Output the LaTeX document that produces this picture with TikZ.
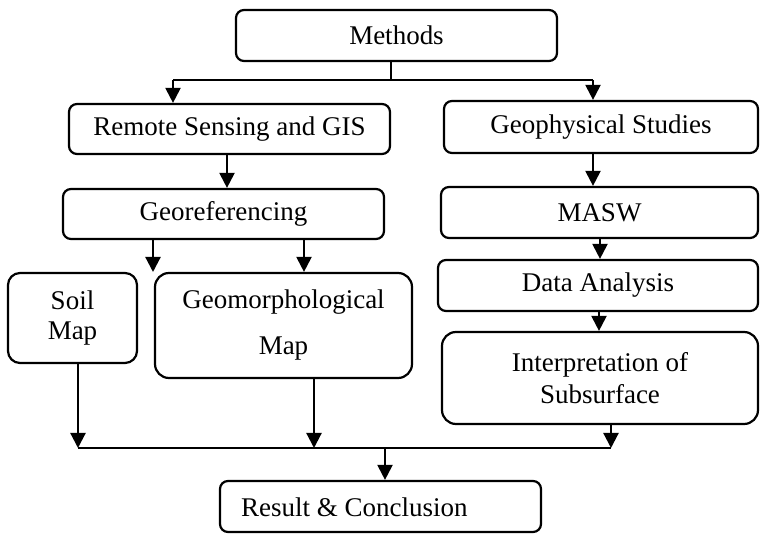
\documentclass[tikz,border=0pt]{standalone}
\usepackage{fontspec}
\setmainfont{Liberation Serif}
\usetikzlibrary{arrows.meta}
\begin{document}
\begin{tikzpicture}[x=1pt,y=-1pt,
  box/.style={draw, line width=2.2pt, rounded corners=8pt, inner sep=0pt, align=center,
    font=\fontsize{27}{30}\selectfont},
  bigbox/.style={box, rounded corners=14pt},
  arr/.style={line width=2.2pt, -{Triangle[width=15pt,length=15pt]}},
  ln/.style={line width=1.6pt}]
\useasboundingbox (0,0) rectangle (761,534);
% boxes
\node[box, minimum width=321pt, minimum height=51pt] (methods) at (396.5,35.5) {Methods};
\node[box, minimum width=321pt, minimum height=50pt] (rs) at (229.5,129) {Remote Sensing and GIS};
\node[box, minimum width=321pt, minimum height=50pt] (geo) at (223.5,214) {Georeferencing};
\node[box, minimum width=314pt, minimum height=52pt] (gp) at (601,127) {Geophysical Studies};
\node[box, minimum width=317pt, minimum height=51pt] (masw) at (599.5,212.5) {MASW};
\node[box, minimum width=320pt, minimum height=51pt] (data) at (598,285.5) {Data Analysis};
\node[bigbox, minimum width=316pt, minimum height=92pt, font=\fontsize{27}{32}\selectfont] (interp) at (600,378) {Interpretation of\\Subsurface};
\node[box, rounded corners=12pt, minimum width=129pt, minimum height=90pt] (soil) at (72.5,318) {Soil\\Map};
\node[bigbox, minimum width=257pt, minimum height=105pt, font=\fontsize{27}{46}\selectfont] (geom) at (283.5,325.5) {Geomorphological\\Map};
\node[box, minimum width=321pt, minimum height=51pt] (result) at (380.5,506.5) {};
\node[font=\fontsize{27}{30}\selectfont, anchor=west, inner sep=0pt] (resulttext) at (241,507) {Result \& Conclusion};
% junction coordinates
\coordinate (j1) at (391,80);
\coordinate (jl) at (173,80);
\coordinate (jr) at (593,80);
\coordinate (x227) at (227,0);
\coordinate (x153) at (153,272);
\coordinate (x304) at (304,0);
\coordinate (x593) at (593,0);
\coordinate (x600) at (600,0);
\coordinate (x599) at (599,0);
\coordinate (b1) at (78,448);
\coordinate (b2) at (314,448);
\coordinate (b3) at (611,448);
\coordinate (b4) at (385,448);
% connectors
\draw[ln] (methods.south -| j1) -- (j1);
\draw[ln] (jl) -- (jr);
\draw[arr] (jl) -- (jl |- rs.north);
\draw[arr] (jr) -- (jr |- gp.north);
\draw[arr] (rs.south -| x227) -- (geo.north -| x227);
\draw[arr] (geo.south -| x153) -- (x153);
\draw[arr] (geo.south -| x304) -- (geom.north -| x304);
\draw[arr] (gp.south -| x593) -- (masw.north -| x593);
\draw[arr] (masw.south -| x600) -- (data.north -| x600);
\draw[arr] (data.south -| x599) -- (interp.north -| x599);
\draw[arr] (soil.south -| b1) -- (b1);
\draw[arr] (geom.south -| b2) -- (b2);
\draw[arr] (interp.south -| b3) -- (b3);
\draw[ln] (b1) -- (b3);
\draw[arr] (b4) -- (result.north -| b4);
\end{tikzpicture}
\end{document}
